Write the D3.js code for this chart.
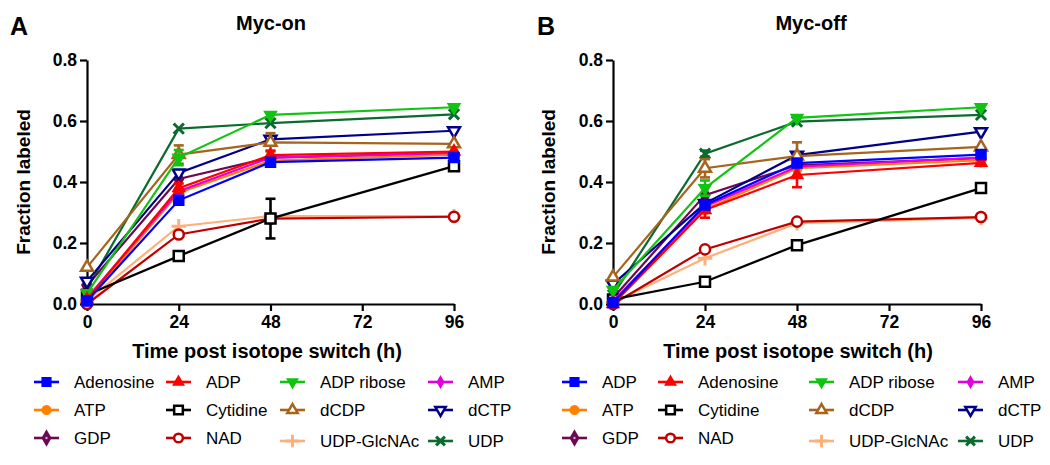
<!DOCTYPE html>
<html>
<head>
<meta charset="utf-8">
<script src="https://cdn.jsdelivr.net/npm/d3@7"></script>
<style>
  body { margin: 0; background: #fff; }
  svg text { font-family: "Liberation Sans", Arial, sans-serif; }
</style>
</head>
<body>
<svg id="vis-svg" width="1050" height="465"></svg>
<script>
// time points (h)
var times = [0, 24, 48, 96];
var xTicks = [0, 24, 48, 72, 96];
var yTicks = [0, 0.2, 0.4, 0.6, 0.8];

// panel A - Myc-on
var adenosineA = [0.010, 0.340, 0.465, 0.480];
var adpA       = [0.015, 0.380, 0.488, 0.500];
var adpRiboseA = [0.035, 0.480, 0.620, 0.645];
var ampA       = [0.020, 0.370, 0.480, 0.495];
var atpA       = [0.010, 0.365, 0.470, 0.490];
var cytidineA  = [0.030, 0.157, 0.280, 0.452];
var dcdpA      = [0.120, 0.490, 0.530, 0.525];
var dctpA      = [0.075, 0.430, 0.540, 0.568];
var gdpA       = [0.060, 0.410, 0.480, 0.495];
var nadA       = [0.000, 0.228, 0.280, 0.286];
var udpGlcA    = [0.010, 0.255, 0.288, 0.288];
var udpA       = [0.050, 0.575, 0.593, 0.622];

var cytidineErrA  = [0, 0, 0.065, 0.012];
var dcdpErrA      = [0, 0.030, 0.030, 0];
var adpRiboseErrA = [0, 0.025, 0, 0];
var adpErrA       = [0, 0.015, 0.015, 0];

// panel B - Myc-off
var adpB       = [0.005, 0.325, 0.462, 0.490];
var adenosineB = [0.000, 0.308, 0.423, 0.463];
var adpRiboseB = [0.046, 0.380, 0.610, 0.645];
var ampB       = [0.010, 0.320, 0.450, 0.480];
var atpB       = [0.005, 0.310, 0.445, 0.472];
var cytidineB  = [0.015, 0.073, 0.193, 0.380];
var dcdpB      = [0.088, 0.445, 0.485, 0.515];
var dctpB      = [0.065, 0.330, 0.488, 0.565];
var gdpB       = [0.020, 0.357, 0.455, 0.478];
var nadB       = [0.000, 0.179, 0.270, 0.285];
var udpGlcB    = [0.005, 0.150, 0.265, 0.282];
var udpB       = [0.030, 0.493, 0.598, 0.620];

var dcdpErrB      = [0, 0.030, 0.045, 0];
var adenosineErrB = [0, 0.025, 0.040, 0.010];
var adpRiboseErrB = [0, 0.025, 0, 0];
var udpErrB       = [0, 0.010, 0, 0];

var none = [0, 0, 0, 0];

// marker styles
var sty = {
  blueSq:   {color: "#0000ff", shape: "square", fill: true},
  redTri:   {color: "#ff0000", shape: "tri", fill: true},
  greenDn:  {color: "#12c412", shape: "down", fill: true},
  magDia:   {color: "#e000e0", shape: "smallDia", fill: true},
  orCirc:   {color: "#ff8000", shape: "circle", fill: true},
  blkSq:    {color: "#000000", shape: "square", fill: false},
  brTri:    {color: "#a5651c", shape: "tri", fill: false},
  navyDn:   {color: "#00008b", shape: "down", fill: false},
  purDia:   {color: "#6b0a52", shape: "dia", fill: true},
  nadCirc:  {color: "#c00000", shape: "circle", fill: false},
  plus:     {color: "#ffb07a", shape: "plus", fill: false},
  xMark:    {color: "#0b6a2e", shape: "x", fill: false}
};

var seriesA = [
  {name: "Adenosine", v: adenosineA, e: none, s: sty.blueSq},
  {name: "ADP", v: adpA, e: adpErrA, s: sty.redTri},
  {name: "ADP ribose", v: adpRiboseA, e: adpRiboseErrA, s: sty.greenDn},
  {name: "AMP", v: ampA, e: none, s: sty.magDia},
  {name: "ATP", v: atpA, e: none, s: sty.orCirc},
  {name: "Cytidine", v: cytidineA, e: cytidineErrA, s: sty.blkSq},
  {name: "dCDP", v: dcdpA, e: dcdpErrA, s: sty.brTri},
  {name: "dCTP", v: dctpA, e: none, s: sty.navyDn},
  {name: "GDP", v: gdpA, e: none, s: sty.purDia},
  {name: "NAD", v: nadA, e: none, s: sty.nadCirc},
  {name: "UDP-GlcNAc", v: udpGlcA, e: none, s: sty.plus},
  {name: "UDP", v: udpA, e: none, s: sty.xMark}
];

var seriesB = [
  {name: "ADP", v: adpB, e: none, s: sty.blueSq},
  {name: "Adenosine", v: adenosineB, e: adenosineErrB, s: sty.redTri},
  {name: "ADP ribose", v: adpRiboseB, e: adpRiboseErrB, s: sty.greenDn},
  {name: "AMP", v: ampB, e: none, s: sty.magDia},
  {name: "ATP", v: atpB, e: none, s: sty.orCirc},
  {name: "Cytidine", v: cytidineB, e: none, s: sty.blkSq},
  {name: "dCDP", v: dcdpB, e: dcdpErrB, s: sty.brTri},
  {name: "dCTP", v: dctpB, e: none, s: sty.navyDn},
  {name: "GDP", v: gdpB, e: none, s: sty.purDia},
  {name: "NAD", v: nadB, e: none, s: sty.nadCirc},
  {name: "UDP-GlcNAc", v: udpGlcB, e: none, s: sty.plus},
  {name: "UDP", v: udpB, e: udpErrB, s: sty.xMark}
];

var svg = d3.select("#vis-svg");

function drawMarker(g, s, cx, cy, scale) {
  scale = scale || 1;
  var sz = {square: 100, tri: 62, down: 62, circle: 80, dia: 80, smallDia: 45, plus: 70, x: 70}[s.shape] * scale;
  var type = {square: d3.symbolSquare, tri: d3.symbolTriangle, down: d3.symbolTriangle, circle: d3.symbolCircle,
              dia: d3.symbolDiamond, smallDia: d3.symbolDiamond, plus: d3.symbolPlus, x: d3.symbolX}[s.shape];
  var p = g.append("path")
    .attr("d", d3.symbol().type(type).size(sz)())
    .attr("transform", "translate(" + cx + "," + cy + ")" + (s.shape == "down" ? " rotate(180)" : ""));
  if (s.shape == "plus" || s.shape == "x") {
    p.attr("fill", "none").attr("stroke", s.color).attr("stroke-width", 3);
  } else if (s.fill) {
    p.attr("fill", s.color).attr("stroke", s.color).attr("stroke-width", 1.5);
  } else {
    p.attr("fill", "#fff").attr("stroke", s.color).attr("stroke-width", 2.5);
  }
  if (s.shape == "dia") {
    g.append("circle").attr("cx", cx).attr("cy", cy).attr("r", 1.2).attr("fill", "#d9a0c8");
  }
}

function drawPanel(series, o) {
  var x = d3.scaleLinear().domain([0, 96]).range([o.left, o.right]);
  var y = d3.scaleLinear().domain([0, 0.8]).range([304, 60]);

  var g = svg.append("g");

  // axes
  var yAxis = g.append("g")
    .attr("transform", "translate(" + o.left + ",0)")
    .call(d3.axisLeft(y).tickValues(yTicks).tickFormat(d3.format(".1f")).tickSize(7).tickSizeOuter(0));
  var xAxis = g.append("g")
    .attr("transform", "translate(0,304)")
    .call(d3.axisBottom(x).tickValues(xTicks).tickFormat(d3.format("d")).tickSize(7).tickSizeOuter(0));
  [xAxis, yAxis].forEach(function(a) {
    a.select(".domain").attr("stroke", "#000").attr("stroke-width", 2.2);
    a.selectAll(".tick line").attr("stroke", "#000").attr("stroke-width", 2.2);
    a.selectAll("text").attr("font-size", 17.5).attr("font-weight", "bold").attr("fill", "#000")
      .style("font-family", "'Liberation Sans', Arial, sans-serif");
  });
  yAxis.selectAll("text").attr("x", -10);
  xAxis.selectAll("text").attr("y", 12);

  // lines, error bars and markers; first series on top
  var line = d3.line().x(function(d, i) { return x(times[i]); }).y(function(d) { return y(d); });
  series.slice().reverse().forEach(function(sr) {
    var sg = g.append("g");
    sg.append("path").datum(sr.v).attr("d", line)
      .attr("fill", "none").attr("stroke", sr.s.color).attr("stroke-width", 2.2);
    sr.v.forEach(function(v, i) {
      var e = sr.e[i];
      if (e > 0) {
        var cx = x(times[i]);
        sg.append("line").attr("x1", cx).attr("x2", cx).attr("y1", y(v - e)).attr("y2", y(v + e))
          .attr("stroke", sr.s.color).attr("stroke-width", 2.6);
        [v - e, v + e].forEach(function(w) {
          sg.append("line").attr("x1", cx - 5).attr("x2", cx + 5).attr("y1", y(w)).attr("y2", y(w))
            .attr("stroke", sr.s.color).attr("stroke-width", 2.6);
        });
      }
      drawMarker(sg, sr.s, x(times[i]), y(v));
    });
  });

  // labels
  svg.append("text").attr("x", o.letterX).attr("y", 35).text(o.letter)
    .attr("font-size", 25).attr("font-weight", "bold");
  svg.append("text").attr("x", o.titleX).attr("y", 30).attr("text-anchor", "middle").text(o.title)
    .attr("font-size", 20).attr("font-weight", "bold");
  svg.append("text").attr("transform", "translate(" + o.yLabX + ",182) rotate(-90)")
    .attr("text-anchor", "middle").text("Fraction labeled")
    .attr("font-size", 19).attr("font-weight", "bold");
  svg.append("text").attr("x", o.xLabX).attr("y", 358).attr("text-anchor", "middle")
    .text("Time post isotope switch (h)")
    .attr("font-size", 20).attr("font-weight", "bold");

  // legend: 4 columns x 3 rows, filled row by row
  var rowY = [382, 410, 438];
  series.forEach(function(sr, i) {
    var col = i % 4, row = Math.floor(i / 4);
    var lx = o.legCols[col], ly = rowY[row] + (col >= 2 && row == 2 ? 3 : 0);
    var lg = svg.append("g");
    lg.append("line").attr("x1", lx).attr("x2", lx + 25).attr("y1", ly).attr("y2", ly)
      .attr("stroke", sr.s.color).attr("stroke-width", 2.6);
    drawMarker(lg, sr.s, lx + 12.5, ly, 0.75);
    lg.append("text").attr("x", lx + o.legGap).attr("y", ly + 6).text(sr.name)
      .attr("font-size", 17).attr("fill", "#000");
  });
}

drawPanel(seriesA, {left: 87, right: 454, letter: "A", letterX: 10, title: "Myc-on", titleX: 271,
  yLabX: 30, xLabX: 267, legCols: [34, 166, 280, 428], legGap: 40});
drawPanel(seriesB, {left: 613, right: 981, letter: "B", letterX: 537, title: "Myc-off", titleX: 811,
  yLabX: 555, xLabX: 798, legCols: [562, 658, 809, 958], legGap: 40});
</script>
</body>
</html>
